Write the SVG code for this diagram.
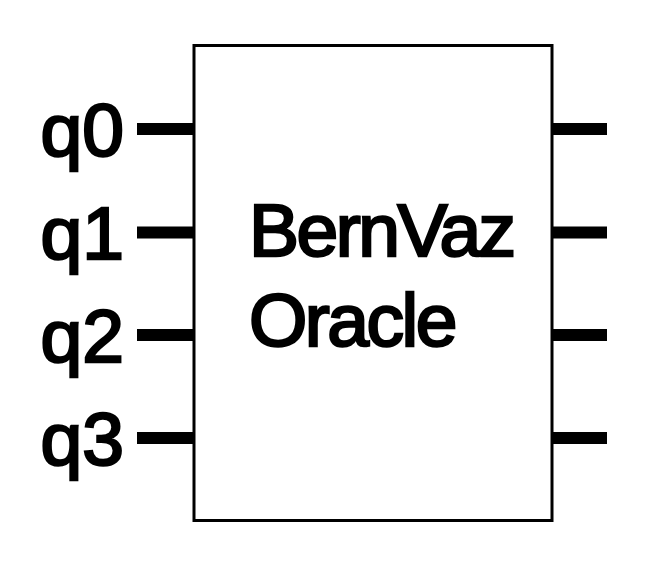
<svg xmlns="http://www.w3.org/2000/svg" width="654" height="564" viewBox="0 0 654 564">
<style>
.lbl{font-family:"Liberation Sans",Arial,sans-serif;font-size:75px;fill:#000;stroke:#000;stroke-width:2.5;text-anchor:end}
.box{fill:#fff;stroke:#000;stroke-width:3}
.title{font-family:"Liberation Sans",Arial,sans-serif;font-size:75px;fill:#000;stroke:#000;stroke-width:2.5;letter-spacing:-2.5px}
.wire{stroke:#000;stroke-width:12;fill:none}
</style>
<g id="connectors">
<line class="wire" x1="137" y1="129" x2="194" y2="129"/>
<line class="wire" x1="137" y1="232.5" x2="194" y2="232.5"/>
<line class="wire" x1="137" y1="335" x2="194" y2="335"/>
<line class="wire" x1="137" y1="438" x2="194" y2="438"/>
<line class="wire" x1="552" y1="129" x2="607" y2="129"/>
<line class="wire" x1="552" y1="232.5" x2="607" y2="232.5"/>
<line class="wire" x1="552" y1="335" x2="607" y2="335"/>
<line class="wire" x1="552" y1="438" x2="607" y2="438"/>
</g>
<g id="oracle">
<rect class="box" x="194" y="45.5" width="358" height="475"/>
<text class="title" x="249" y="256">BernVaz</text>
<text class="title" x="249" y="346">Oracle</text>
</g>
<g id="q0"><text class="lbl" x="124" y="156">q0</text></g>
<g id="q1"><text class="lbl" x="124" y="259">q1</text></g>
<g id="q2"><text class="lbl" x="124" y="362">q2</text></g>
<g id="q3"><text class="lbl" x="124" y="465">q3</text></g>
</svg>
